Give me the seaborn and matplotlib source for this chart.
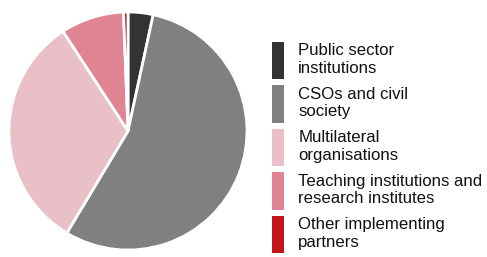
import matplotlib
matplotlib.use("Agg")
import matplotlib.pyplot as plt
import matplotlib.patches as mpatches
import seaborn as sns

labels = ["Public sector\ninstitutions", "CSOs and civil\nsociety", "Multilateral\norganisations",
          "Teaching institutions and\nresearch institutes", "Other implementing\npartners"]
shares = [3.4, 55.2, 32.2, 8.6, 0.6]
colors = ["#333333", "#808080", "#E9C0C8", "#E08494", "#C3161C"]

sns.set_theme(style="white")
plt.rcParams["font.family"] = ["Liberation Sans", "DejaVu Sans"]

W, H = 487, 257
fig = plt.figure(figsize=(W / 100, H / 100), dpi=100)

# pie centred at (128, 131) px with radius 119 px
cx, cy, r = 128, 131, 119
ax = fig.add_axes([(cx - r) / W, (H - cy - r) / H, 2 * r / W, 2 * r / H])
ax.pie(shares, colors=colors, startangle=90, counterclock=False,
       wedgeprops=dict(edgecolor="white", linewidth=2))
ax.set_xlim(-1, 1)
ax.set_ylim(-1, 1)
ax.set_aspect("equal")
ax.axis("off")

handles = [mpatches.Patch(facecolor=c, edgecolor="none") for c in colors]
leg = fig.legend(handles, labels, loc="upper left", bbox_to_anchor=(272 / W, 1 - 42 / H),
                 frameon=False, fontsize=12.1, borderpad=0, borderaxespad=0,
                 handlelength=0.7, handleheight=3.05, handletextpad=0.86,
                 labelspacing=0.36)
for t in leg.get_texts():
    t.set_color("#111111")

fig.savefig("out.png", dpi=100)
